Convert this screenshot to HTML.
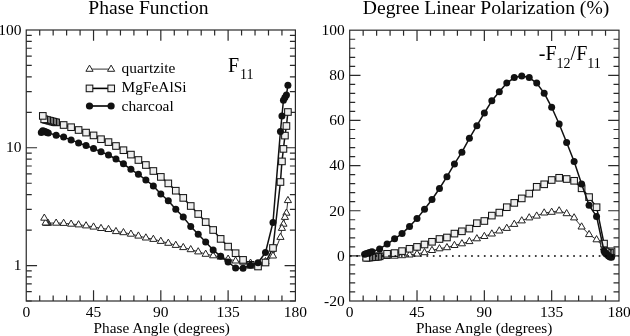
<!DOCTYPE html>
<html><head><meta charset="utf-8"><style>html,body{margin:0;padding:0;background:#fff;}svg{display:block;filter:grayscale(1);}</style></head>
<body><svg width="630" height="336" viewBox="0 0 630 336"><rect width="630" height="336" fill="#fff"/><text x="88.3" y="13.9" font-size="19.6" font-family="Liberation Serif, serif" fill="#000">Phase Function</text><text x="362.8" y="13.9" font-size="19.6" font-family="Liberation Serif, serif" fill="#000">Degree Linear Polarization (%)</text><rect x="26.25" y="30.0" width="269.15" height="271.00" fill="none" stroke="#2a2a2a" stroke-width="1.2"/><path d="M93.54,301.0V290.20M93.54,30.0V40.80M160.82,301.0V290.20M160.82,30.0V40.80M228.11,301.0V290.20M228.11,30.0V40.80M39.71,301.0V295.50M39.71,30.0V35.50M53.16,301.0V295.50M53.16,30.0V35.50M66.62,301.0V295.50M66.62,30.0V35.50M80.08,301.0V295.50M80.08,30.0V35.50M106.99,301.0V295.50M106.99,30.0V35.50M120.45,301.0V295.50M120.45,30.0V35.50M133.91,301.0V295.50M133.91,30.0V35.50M147.37,301.0V295.50M147.37,30.0V35.50M174.28,301.0V295.50M174.28,30.0V35.50M187.74,301.0V295.50M187.74,30.0V35.50M201.20,301.0V295.50M201.20,30.0V35.50M214.65,301.0V295.50M214.65,30.0V35.50M241.57,301.0V295.50M241.57,30.0V35.50M255.03,301.0V295.50M255.03,30.0V35.50M268.49,301.0V295.50M268.49,30.0V35.50M281.94,301.0V295.50M281.94,30.0V35.50M26.25,265.55H37.05M295.4,265.55H284.60M26.25,147.77H37.05M295.4,147.77H284.60M26.25,301.00H31.75M295.4,301.00H289.90M26.25,291.67H31.75M295.4,291.67H289.90M26.25,283.79H31.75M295.4,283.79H289.90M26.25,276.96H31.75M295.4,276.96H289.90M26.25,270.94H31.75M295.4,270.94H289.90M26.25,230.09H31.75M295.4,230.09H289.90M26.25,209.35H31.75M295.4,209.35H289.90M26.25,194.64H31.75M295.4,194.64H289.90M26.25,183.23H31.75M295.4,183.23H289.90M26.25,173.90H31.75M295.4,173.90H289.90M26.25,166.02H31.75M295.4,166.02H289.90M26.25,159.19H31.75M295.4,159.19H289.90M26.25,153.16H31.75M295.4,153.16H289.90M26.25,112.32H31.75M295.4,112.32H289.90M26.25,91.58H31.75M295.4,91.58H289.90M26.25,76.87H31.75M295.4,76.87H289.90M26.25,65.45H31.75M295.4,65.45H289.90M26.25,56.13H31.75M295.4,56.13H289.90M26.25,48.24H31.75M295.4,48.24H289.90M26.25,41.41H31.75M295.4,41.41H289.90M26.25,35.39H31.75M295.4,35.39H289.90" stroke="#2a2a2a" stroke-width="1.2" fill="none"/><rect x="349.7" y="30.2" width="269.30" height="270.80" fill="none" stroke="#2a2a2a" stroke-width="1.2"/><path d="M417.02,301.0V290.20M417.02,30.2V41.00M484.35,301.0V290.20M484.35,30.2V41.00M551.67,301.0V290.20M551.67,30.2V41.00M363.16,301.0V295.50M363.16,30.2V35.70M376.63,301.0V295.50M376.63,30.2V35.70M390.09,301.0V295.50M390.09,30.2V35.70M403.56,301.0V295.50M403.56,30.2V35.70M430.49,301.0V295.50M430.49,30.2V35.70M443.95,301.0V295.50M443.95,30.2V35.70M457.42,301.0V295.50M457.42,30.2V35.70M470.88,301.0V295.50M470.88,30.2V35.70M497.81,301.0V295.50M497.81,30.2V35.70M511.28,301.0V295.50M511.28,30.2V35.70M524.75,301.0V295.50M524.75,30.2V35.70M538.21,301.0V295.50M538.21,30.2V35.70M565.14,301.0V295.50M565.14,30.2V35.70M578.61,301.0V295.50M578.61,30.2V35.70M592.07,301.0V295.50M592.07,30.2V35.70M605.53,301.0V295.50M605.53,30.2V35.70M349.7,255.87H360.50M619.0,255.87H608.20M349.7,210.73H360.50M619.0,210.73H608.20M349.7,165.60H360.50M619.0,165.60H608.20M349.7,120.47H360.50M619.0,120.47H608.20M349.7,75.33H360.50M619.0,75.33H608.20M349.7,291.97H355.20M619.0,291.97H613.50M349.7,282.95H355.20M619.0,282.95H613.50M349.7,273.92H355.20M619.0,273.92H613.50M349.7,264.89H355.20M619.0,264.89H613.50M349.7,246.84H355.20M619.0,246.84H613.50M349.7,237.81H355.20M619.0,237.81H613.50M349.7,228.79H355.20M619.0,228.79H613.50M349.7,219.76H355.20M619.0,219.76H613.50M349.7,201.71H355.20M619.0,201.71H613.50M349.7,192.68H355.20M619.0,192.68H613.50M349.7,183.65H355.20M619.0,183.65H613.50M349.7,174.63H355.20M619.0,174.63H613.50M349.7,156.57H355.20M619.0,156.57H613.50M349.7,147.55H355.20M619.0,147.55H613.50M349.7,138.52H355.20M619.0,138.52H613.50M349.7,129.49H355.20M619.0,129.49H613.50M349.7,111.44H355.20M619.0,111.44H613.50M349.7,102.41H355.20M619.0,102.41H613.50M349.7,93.39H355.20M619.0,93.39H613.50M349.7,84.36H355.20M619.0,84.36H613.50M349.7,66.31H355.20M619.0,66.31H613.50M349.7,57.28H355.20M619.0,57.28H613.50M349.7,48.25H355.20M619.0,48.25H613.50M349.7,39.23H355.20M619.0,39.23H613.50" stroke="#2a2a2a" stroke-width="1.2" fill="none"/><g font-size="15.5" font-family="Liberation Serif, serif" fill="#000"><text x="26.25" y="316.9" text-anchor="middle">0</text><text x="93.54" y="316.9" text-anchor="middle">45</text><text x="160.82" y="316.9" text-anchor="middle">90</text><text x="228.11" y="316.9" text-anchor="middle">135</text><text x="295.40" y="316.9" text-anchor="middle">180</text><text x="349.70" y="316.9" text-anchor="middle">0</text><text x="417.02" y="316.9" text-anchor="middle">45</text><text x="484.35" y="316.9" text-anchor="middle">90</text><text x="551.67" y="316.9" text-anchor="middle">135</text><text x="619.00" y="316.9" text-anchor="middle">180</text><text x="21.6" y="270.15" text-anchor="end">1</text><text x="21.6" y="152.37" text-anchor="end">10</text><text x="21.6" y="34.60" text-anchor="end">100</text><text x="344.7" y="305.80" text-anchor="end">-20</text><text x="344.7" y="260.67" text-anchor="end">0</text><text x="344.7" y="215.53" text-anchor="end">20</text><text x="344.7" y="170.40" text-anchor="end">40</text><text x="344.7" y="125.27" text-anchor="end">60</text><text x="344.7" y="80.13" text-anchor="end">80</text><text x="344.7" y="35.00" text-anchor="end">100</text></g><text x="93.6" y="332.8" font-size="15.25" font-family="Liberation Serif, serif" fill="#000">Phase Angle (degrees)</text><text x="416.0" y="332.8" font-size="15.25" font-family="Liberation Serif, serif" fill="#000">Phase Angle (degrees)</text><text x="228" y="71.6" font-size="20" font-family="Liberation Serif, serif" fill="#000">F<tspan font-size="14" dx="0.8" dy="7.6">11</tspan></text><text x="538.8" y="59.9" font-size="20" font-family="Liberation Serif, serif" fill="#000">-F<tspan font-size="14" dy="7.6">12</tspan><tspan dy="-7.6">/F</tspan><tspan font-size="14" dy="7.6">11</tspan></text><line x1="89.5" y1="69.1" x2="111.1" y2="69.1" stroke="#333" stroke-width="1"/><g fill="#fff" stroke="#222" stroke-width="1"><polygon points="111.10,65.10 107.50,71.30 114.70,71.30"/><polygon points="89.50,65.10 85.90,71.30 93.10,71.30"/></g><line x1="89.5" y1="88.4" x2="111.1" y2="88.4" stroke="#000" stroke-width="1.6"/><g fill="#eeeeee" stroke="#151515" stroke-width="1.05"><rect x="107.90" y="85.10" width="6.6" height="6.6"/><rect x="86.20" y="85.10" width="6.6" height="6.6"/></g><line x1="89.5" y1="106" x2="111.1" y2="106" stroke="#000" stroke-width="1.6"/><g fill="#111"><circle cx="111.10" cy="106.00" r="3.6"/><circle cx="89.50" cy="106.00" r="3.6"/></g><g font-size="15.4" font-family="Liberation Serif, serif" fill="#000"><text x="121.6" y="72.8">quartzite</text><text x="121.6" y="91.9">MgFeAlSi</text><text x="121.6" y="110.9">charcoal</text></g><polyline points="44.30,218.00 45.60,222.80 46.40,223.00 47.20,223.00 48.00,223.10 56.16,223.00 63.63,223.20 71.11,224.00 78.58,224.70 86.06,225.70 93.54,226.90 101.01,228.30 108.49,229.30 115.97,231.40 123.44,232.50 130.92,234.00 138.40,235.90 145.87,237.80 153.35,239.20 160.82,241.20 168.30,243.10 175.78,245.20 183.25,247.40 190.73,249.50 198.21,251.70 205.68,254.10 213.16,255.60 220.64,256.90 228.11,259.00 235.59,260.80 243.07,262.00 250.54,263.00 258.02,264.00 265.49,261.50 272.97,255.80 280.45,237.20 281.94,228.20 283.44,224.00 284.93,217.20 286.43,213.00 287.92,200.40" fill="none" stroke="#333" stroke-width="1.0" stroke-linejoin="round"/><g fill="#fff" stroke="#222" stroke-width="1"><polygon points="287.92,196.40 284.32,202.60 291.52,202.60"/><polygon points="286.43,209.00 282.83,215.20 290.03,215.20"/><polygon points="284.93,213.20 281.33,219.40 288.53,219.40"/><polygon points="283.44,220.00 279.84,226.20 287.04,226.20"/><polygon points="281.94,224.20 278.34,230.40 285.54,230.40"/><polygon points="280.45,233.20 276.85,239.40 284.05,239.40"/><polygon points="272.97,251.80 269.37,258.00 276.57,258.00"/><polygon points="265.49,257.50 261.89,263.70 269.09,263.70"/><polygon points="258.02,260.00 254.42,266.20 261.62,266.20"/><polygon points="250.54,259.00 246.94,265.20 254.14,265.20"/><polygon points="243.07,258.00 239.47,264.20 246.67,264.20"/><polygon points="235.59,256.80 231.99,263.00 239.19,263.00"/><polygon points="228.11,255.00 224.51,261.20 231.71,261.20"/><polygon points="220.64,252.90 217.04,259.10 224.24,259.10"/><polygon points="213.16,251.60 209.56,257.80 216.76,257.80"/><polygon points="205.68,250.10 202.08,256.30 209.28,256.30"/><polygon points="198.21,247.70 194.61,253.90 201.81,253.90"/><polygon points="190.73,245.50 187.13,251.70 194.33,251.70"/><polygon points="183.25,243.40 179.65,249.60 186.85,249.60"/><polygon points="175.78,241.20 172.18,247.40 179.38,247.40"/><polygon points="168.30,239.10 164.70,245.30 171.90,245.30"/><polygon points="160.82,237.20 157.22,243.40 164.42,243.40"/><polygon points="153.35,235.20 149.75,241.40 156.95,241.40"/><polygon points="145.87,233.80 142.27,240.00 149.47,240.00"/><polygon points="138.40,231.90 134.80,238.10 142.00,238.10"/><polygon points="130.92,230.00 127.32,236.20 134.52,236.20"/><polygon points="123.44,228.50 119.84,234.70 127.04,234.70"/><polygon points="115.97,227.40 112.37,233.60 119.57,233.60"/><polygon points="108.49,225.30 104.89,231.50 112.09,231.50"/><polygon points="101.01,224.30 97.41,230.50 104.61,230.50"/><polygon points="93.54,222.90 89.94,229.10 97.14,229.10"/><polygon points="86.06,221.70 82.46,227.90 89.66,227.90"/><polygon points="78.58,220.70 74.98,226.90 82.18,226.90"/><polygon points="71.11,220.00 67.51,226.20 74.71,226.20"/><polygon points="63.63,219.20 60.03,225.40 67.23,225.40"/><polygon points="56.16,219.00 52.56,225.20 59.76,225.20"/><polygon points="48.00,219.10 44.40,225.30 51.60,225.30"/><polygon points="47.20,219.00 43.60,225.20 50.80,225.20"/><polygon points="46.40,219.00 42.80,225.20 50.00,225.20"/><polygon points="45.60,218.80 42.00,225.00 49.20,225.00"/><polygon points="44.30,214.00 40.70,220.20 47.90,220.20"/></g><polyline points="42.80,115.90 44.19,119.30 45.69,119.70 47.18,120.10 48.68,120.50 50.17,120.90 51.67,121.30 53.16,121.70 54.66,122.10 56.16,122.40 63.63,125.00 71.11,127.20 78.58,130.00 86.06,132.60 93.54,135.40 101.01,139.20 108.49,142.10 115.97,146.00 123.44,150.20 130.92,154.60 138.40,160.00 145.87,165.00 153.35,171.00 160.82,176.90 168.30,183.40 175.78,190.70 183.25,197.90 190.73,206.00 198.21,214.00 205.68,222.10 213.16,230.00 220.64,238.90 228.11,246.60 235.59,253.20 243.07,259.90 250.54,264.80 258.02,266.50 265.49,262.50 272.97,248.00 280.45,182.00 281.94,161.40 283.44,148.90 284.93,135.60 286.43,126.00 287.92,112.00" fill="none" stroke="#111" stroke-width="1.5" stroke-linejoin="round"/><g fill="#eeeeee" stroke="#151515" stroke-width="1.05"><rect x="284.62" y="108.70" width="6.6" height="6.6"/><rect x="283.13" y="122.70" width="6.6" height="6.6"/><rect x="281.63" y="132.30" width="6.6" height="6.6"/><rect x="280.14" y="145.60" width="6.6" height="6.6"/><rect x="278.64" y="158.10" width="6.6" height="6.6"/><rect x="277.15" y="178.70" width="6.6" height="6.6"/><rect x="269.67" y="244.70" width="6.6" height="6.6"/><rect x="262.19" y="259.20" width="6.6" height="6.6"/><rect x="254.72" y="263.20" width="6.6" height="6.6"/><rect x="247.24" y="261.50" width="6.6" height="6.6"/><rect x="239.77" y="256.60" width="6.6" height="6.6"/><rect x="232.29" y="249.90" width="6.6" height="6.6"/><rect x="224.81" y="243.30" width="6.6" height="6.6"/><rect x="217.34" y="235.60" width="6.6" height="6.6"/><rect x="209.86" y="226.70" width="6.6" height="6.6"/><rect x="202.38" y="218.80" width="6.6" height="6.6"/><rect x="194.91" y="210.70" width="6.6" height="6.6"/><rect x="187.43" y="202.70" width="6.6" height="6.6"/><rect x="179.95" y="194.60" width="6.6" height="6.6"/><rect x="172.48" y="187.40" width="6.6" height="6.6"/><rect x="165.00" y="180.10" width="6.6" height="6.6"/><rect x="157.52" y="173.60" width="6.6" height="6.6"/><rect x="150.05" y="167.70" width="6.6" height="6.6"/><rect x="142.57" y="161.70" width="6.6" height="6.6"/><rect x="135.10" y="156.70" width="6.6" height="6.6"/><rect x="127.62" y="151.30" width="6.6" height="6.6"/><rect x="120.14" y="146.90" width="6.6" height="6.6"/><rect x="112.67" y="142.70" width="6.6" height="6.6"/><rect x="105.19" y="138.80" width="6.6" height="6.6"/><rect x="97.71" y="135.90" width="6.6" height="6.6"/><rect x="90.24" y="132.10" width="6.6" height="6.6"/><rect x="82.76" y="129.30" width="6.6" height="6.6"/><rect x="75.28" y="126.70" width="6.6" height="6.6"/><rect x="67.81" y="123.90" width="6.6" height="6.6"/><rect x="60.33" y="121.70" width="6.6" height="6.6"/><rect x="52.86" y="119.10" width="6.6" height="6.6"/><rect x="51.36" y="118.80" width="6.6" height="6.6"/><rect x="49.87" y="118.40" width="6.6" height="6.6"/><rect x="48.37" y="118.00" width="6.6" height="6.6"/><rect x="46.87" y="117.60" width="6.6" height="6.6"/><rect x="45.38" y="117.20" width="6.6" height="6.6"/><rect x="43.88" y="116.80" width="6.6" height="6.6"/><rect x="42.39" y="116.40" width="6.6" height="6.6"/><rect x="40.89" y="116.00" width="6.6" height="6.6"/><rect x="39.50" y="112.60" width="6.6" height="6.6"/></g><polyline points="41.30,132.50 42.70,130.70 44.10,131.20 45.50,131.80 46.90,132.40 48.30,132.90 56.16,135.30 63.63,137.10 71.11,139.90 78.58,142.90 86.06,145.50 93.54,148.60 101.01,151.70 108.49,155.00 115.97,159.00 123.44,163.80 130.92,169.30 138.40,174.30 145.87,180.00 153.35,185.90 160.82,194.00 168.30,200.70 175.78,209.30 183.25,217.00 190.73,226.40 198.21,234.30 205.68,242.00 213.16,249.90 220.64,256.30 228.11,262.00 235.59,268.00 243.07,268.30 250.54,265.20 258.02,262.70 265.49,252.50 272.97,222.50 280.45,131.40 281.94,116.00 283.44,100.30 284.93,97.60 286.43,95.00 287.92,85.20" fill="none" stroke="#111" stroke-width="1.5" stroke-linejoin="round"/><g fill="#111"><circle cx="287.92" cy="85.20" r="3.5"/><circle cx="286.43" cy="95.00" r="3.5"/><circle cx="284.93" cy="97.60" r="3.5"/><circle cx="283.44" cy="100.30" r="3.5"/><circle cx="281.94" cy="116.00" r="3.5"/><circle cx="280.45" cy="131.40" r="3.5"/><circle cx="272.97" cy="222.50" r="3.5"/><circle cx="265.49" cy="252.50" r="3.5"/><circle cx="258.02" cy="262.70" r="3.5"/><circle cx="250.54" cy="265.20" r="3.5"/><circle cx="243.07" cy="268.30" r="3.5"/><circle cx="235.59" cy="268.00" r="3.5"/><circle cx="228.11" cy="262.00" r="3.5"/><circle cx="220.64" cy="256.30" r="3.5"/><circle cx="213.16" cy="249.90" r="3.5"/><circle cx="205.68" cy="242.00" r="3.5"/><circle cx="198.21" cy="234.30" r="3.5"/><circle cx="190.73" cy="226.40" r="3.5"/><circle cx="183.25" cy="217.00" r="3.5"/><circle cx="175.78" cy="209.30" r="3.5"/><circle cx="168.30" cy="200.70" r="3.5"/><circle cx="160.82" cy="194.00" r="3.5"/><circle cx="153.35" cy="185.90" r="3.5"/><circle cx="145.87" cy="180.00" r="3.5"/><circle cx="138.40" cy="174.30" r="3.5"/><circle cx="130.92" cy="169.30" r="3.5"/><circle cx="123.44" cy="163.80" r="3.5"/><circle cx="115.97" cy="159.00" r="3.5"/><circle cx="108.49" cy="155.00" r="3.5"/><circle cx="101.01" cy="151.70" r="3.5"/><circle cx="93.54" cy="148.60" r="3.5"/><circle cx="86.06" cy="145.50" r="3.5"/><circle cx="78.58" cy="142.90" r="3.5"/><circle cx="71.11" cy="139.90" r="3.5"/><circle cx="63.63" cy="137.10" r="3.5"/><circle cx="56.16" cy="135.30" r="3.5"/><circle cx="48.30" cy="132.90" r="3.5"/><circle cx="46.90" cy="132.40" r="3.5"/><circle cx="45.50" cy="131.80" r="3.5"/><circle cx="44.10" cy="131.20" r="3.5"/><circle cx="42.70" cy="130.70" r="3.5"/><circle cx="41.30" cy="132.50" r="3.5"/></g><polyline points="366.16,257.60 367.65,257.50 369.15,257.40 370.65,257.30 372.14,257.20 373.64,257.10 375.13,257.00 376.63,256.90 378.13,256.80 379.62,256.80 387.10,256.30 394.58,256.00 402.06,255.50 409.54,254.80 417.02,253.90 424.51,252.50 431.99,250.30 439.47,248.60 446.95,247.50 454.43,245.30 461.91,243.60 469.39,241.40 476.87,238.60 484.35,236.30 491.83,233.80 499.31,230.80 506.79,228.20 514.27,224.20 521.75,220.70 529.23,217.70 536.71,215.90 544.19,212.80 551.67,212.10 559.16,210.70 566.64,213.50 574.12,217.70 581.60,226.80 589.08,234.40 596.56,239.60 604.04,247.50 605.53,249.50 607.03,251.00 608.53,252.50 610.02,253.50 611.52,254.50" fill="none" stroke="#333" stroke-width="1.0" stroke-linejoin="round"/><g fill="#fff" stroke="#222" stroke-width="1"><polygon points="611.52,250.50 607.92,256.70 615.12,256.70"/><polygon points="610.02,249.50 606.42,255.70 613.62,255.70"/><polygon points="608.53,248.50 604.93,254.70 612.13,254.70"/><polygon points="607.03,247.00 603.43,253.20 610.63,253.20"/><polygon points="605.53,245.50 601.93,251.70 609.13,251.70"/><polygon points="604.04,243.50 600.44,249.70 607.64,249.70"/><polygon points="596.56,235.60 592.96,241.80 600.16,241.80"/><polygon points="589.08,230.40 585.48,236.60 592.68,236.60"/><polygon points="581.60,222.80 578.00,229.00 585.20,229.00"/><polygon points="574.12,213.70 570.52,219.90 577.72,219.90"/><polygon points="566.64,209.50 563.04,215.70 570.24,215.70"/><polygon points="559.16,206.70 555.56,212.90 562.76,212.90"/><polygon points="551.67,208.10 548.07,214.30 555.27,214.30"/><polygon points="544.19,208.80 540.59,215.00 547.79,215.00"/><polygon points="536.71,211.90 533.11,218.10 540.31,218.10"/><polygon points="529.23,213.70 525.63,219.90 532.83,219.90"/><polygon points="521.75,216.70 518.15,222.90 525.35,222.90"/><polygon points="514.27,220.20 510.67,226.40 517.87,226.40"/><polygon points="506.79,224.20 503.19,230.40 510.39,230.40"/><polygon points="499.31,226.80 495.71,233.00 502.91,233.00"/><polygon points="491.83,229.80 488.23,236.00 495.43,236.00"/><polygon points="484.35,232.30 480.75,238.50 487.95,238.50"/><polygon points="476.87,234.60 473.27,240.80 480.47,240.80"/><polygon points="469.39,237.40 465.79,243.60 472.99,243.60"/><polygon points="461.91,239.60 458.31,245.80 465.51,245.80"/><polygon points="454.43,241.30 450.83,247.50 458.03,247.50"/><polygon points="446.95,243.50 443.35,249.70 450.55,249.70"/><polygon points="439.47,244.60 435.87,250.80 443.07,250.80"/><polygon points="431.99,246.30 428.39,252.50 435.59,252.50"/><polygon points="424.51,248.50 420.91,254.70 428.11,254.70"/><polygon points="417.02,249.90 413.42,256.10 420.62,256.10"/><polygon points="409.54,250.80 405.94,257.00 413.14,257.00"/><polygon points="402.06,251.50 398.46,257.70 405.66,257.70"/><polygon points="394.58,252.00 390.98,258.20 398.18,258.20"/><polygon points="387.10,252.30 383.50,258.50 390.70,258.50"/><polygon points="379.62,252.80 376.02,259.00 383.22,259.00"/><polygon points="378.13,252.80 374.53,259.00 381.73,259.00"/><polygon points="376.63,252.90 373.03,259.10 380.23,259.10"/><polygon points="375.13,253.00 371.53,259.20 378.73,259.20"/><polygon points="373.64,253.10 370.04,259.30 377.24,259.30"/><polygon points="372.14,253.20 368.54,259.40 375.74,259.40"/><polygon points="370.65,253.30 367.05,259.50 374.25,259.50"/><polygon points="369.15,253.40 365.55,259.60 372.75,259.60"/><polygon points="367.65,253.50 364.05,259.70 371.25,259.70"/><polygon points="366.16,253.60 362.56,259.80 369.76,259.80"/></g><polyline points="366.16,257.80 367.65,257.65 369.15,257.50 370.65,257.35 372.14,257.20 373.64,257.05 375.13,256.90 376.63,256.75 378.13,256.60 379.62,256.30 387.10,253.80 394.58,253.10 402.06,251.10 409.54,248.80 417.02,246.90 424.51,244.50 431.99,241.80 439.47,239.00 446.95,237.50 454.43,233.60 461.91,231.30 469.39,228.60 476.87,223.20 484.35,221.00 491.83,215.60 499.31,212.60 506.79,207.20 514.27,202.90 521.75,198.40 529.23,193.60 536.71,186.80 544.19,184.30 551.67,180.00 559.16,177.80 566.64,179.00 574.12,180.80 581.60,188.30 589.08,197.10 596.56,207.20 604.04,243.60 605.53,251.50 607.03,252.80 608.53,253.20 610.02,252.60 611.52,251.30" fill="none" stroke="#111" stroke-width="1.5" stroke-linejoin="round"/><g fill="#eeeeee" stroke="#151515" stroke-width="1.05"><rect x="608.22" y="248.00" width="6.6" height="6.6"/><rect x="606.72" y="249.30" width="6.6" height="6.6"/><rect x="605.23" y="249.90" width="6.6" height="6.6"/><rect x="603.73" y="249.50" width="6.6" height="6.6"/><rect x="602.24" y="248.20" width="6.6" height="6.6"/><rect x="600.74" y="240.30" width="6.6" height="6.6"/><rect x="593.26" y="203.90" width="6.6" height="6.6"/><rect x="585.78" y="193.80" width="6.6" height="6.6"/><rect x="578.30" y="185.00" width="6.6" height="6.6"/><rect x="570.82" y="177.50" width="6.6" height="6.6"/><rect x="563.34" y="175.70" width="6.6" height="6.6"/><rect x="555.86" y="174.50" width="6.6" height="6.6"/><rect x="548.38" y="176.70" width="6.6" height="6.6"/><rect x="540.89" y="181.00" width="6.6" height="6.6"/><rect x="533.41" y="183.50" width="6.6" height="6.6"/><rect x="525.93" y="190.30" width="6.6" height="6.6"/><rect x="518.45" y="195.10" width="6.6" height="6.6"/><rect x="510.97" y="199.60" width="6.6" height="6.6"/><rect x="503.49" y="203.90" width="6.6" height="6.6"/><rect x="496.01" y="209.30" width="6.6" height="6.6"/><rect x="488.53" y="212.30" width="6.6" height="6.6"/><rect x="481.05" y="217.70" width="6.6" height="6.6"/><rect x="473.57" y="219.90" width="6.6" height="6.6"/><rect x="466.09" y="225.30" width="6.6" height="6.6"/><rect x="458.61" y="228.00" width="6.6" height="6.6"/><rect x="451.13" y="230.30" width="6.6" height="6.6"/><rect x="443.65" y="234.20" width="6.6" height="6.6"/><rect x="436.17" y="235.70" width="6.6" height="6.6"/><rect x="428.69" y="238.50" width="6.6" height="6.6"/><rect x="421.21" y="241.20" width="6.6" height="6.6"/><rect x="413.72" y="243.60" width="6.6" height="6.6"/><rect x="406.24" y="245.50" width="6.6" height="6.6"/><rect x="398.76" y="247.80" width="6.6" height="6.6"/><rect x="391.28" y="249.80" width="6.6" height="6.6"/><rect x="383.80" y="250.50" width="6.6" height="6.6"/><rect x="376.32" y="253.00" width="6.6" height="6.6"/><rect x="374.83" y="253.30" width="6.6" height="6.6"/><rect x="373.33" y="253.45" width="6.6" height="6.6"/><rect x="371.83" y="253.60" width="6.6" height="6.6"/><rect x="370.34" y="253.75" width="6.6" height="6.6"/><rect x="368.84" y="253.90" width="6.6" height="6.6"/><rect x="367.35" y="254.05" width="6.6" height="6.6"/><rect x="365.85" y="254.20" width="6.6" height="6.6"/><rect x="364.35" y="254.35" width="6.6" height="6.6"/><rect x="362.86" y="254.50" width="6.6" height="6.6"/></g><polyline points="364.60,254.30 366.10,253.80 367.60,253.30 369.10,252.70 370.60,252.20 372.10,251.70 379.62,248.90 387.10,244.10 394.58,238.80 402.06,233.60 409.54,226.40 417.02,218.60 424.51,209.30 431.99,199.50 439.47,188.50 446.95,176.70 454.43,163.90 461.91,152.20 469.39,138.30 476.87,125.70 484.35,113.00 491.83,100.80 499.31,91.70 506.79,83.10 514.27,77.60 521.75,76.00 529.23,77.60 536.71,83.10 544.19,93.20 551.67,107.30 559.16,124.00 566.64,142.50 574.12,161.50 581.60,184.00 589.08,205.30 596.56,216.40 604.04,251.00 605.53,253.00 607.03,254.50 608.53,256.00 610.02,257.00 611.52,257.30" fill="none" stroke="#111" stroke-width="1.5" stroke-linejoin="round"/><g fill="#111"><circle cx="611.52" cy="257.30" r="3.5"/><circle cx="610.02" cy="257.00" r="3.5"/><circle cx="608.53" cy="256.00" r="3.5"/><circle cx="607.03" cy="254.50" r="3.5"/><circle cx="605.53" cy="253.00" r="3.5"/><circle cx="604.04" cy="251.00" r="3.5"/><circle cx="596.56" cy="216.40" r="3.5"/><circle cx="589.08" cy="205.30" r="3.5"/><circle cx="581.60" cy="184.00" r="3.5"/><circle cx="574.12" cy="161.50" r="3.5"/><circle cx="566.64" cy="142.50" r="3.5"/><circle cx="559.16" cy="124.00" r="3.5"/><circle cx="551.67" cy="107.30" r="3.5"/><circle cx="544.19" cy="93.20" r="3.5"/><circle cx="536.71" cy="83.10" r="3.5"/><circle cx="529.23" cy="77.60" r="3.5"/><circle cx="521.75" cy="76.00" r="3.5"/><circle cx="514.27" cy="77.60" r="3.5"/><circle cx="506.79" cy="83.10" r="3.5"/><circle cx="499.31" cy="91.70" r="3.5"/><circle cx="491.83" cy="100.80" r="3.5"/><circle cx="484.35" cy="113.00" r="3.5"/><circle cx="476.87" cy="125.70" r="3.5"/><circle cx="469.39" cy="138.30" r="3.5"/><circle cx="461.91" cy="152.20" r="3.5"/><circle cx="454.43" cy="163.90" r="3.5"/><circle cx="446.95" cy="176.70" r="3.5"/><circle cx="439.47" cy="188.50" r="3.5"/><circle cx="431.99" cy="199.50" r="3.5"/><circle cx="424.51" cy="209.30" r="3.5"/><circle cx="417.02" cy="218.60" r="3.5"/><circle cx="409.54" cy="226.40" r="3.5"/><circle cx="402.06" cy="233.60" r="3.5"/><circle cx="394.58" cy="238.80" r="3.5"/><circle cx="387.10" cy="244.10" r="3.5"/><circle cx="379.62" cy="248.90" r="3.5"/><circle cx="372.10" cy="251.70" r="3.5"/><circle cx="370.60" cy="252.20" r="3.5"/><circle cx="369.10" cy="252.70" r="3.5"/><circle cx="367.60" cy="253.30" r="3.5"/><circle cx="366.10" cy="253.80" r="3.5"/><circle cx="364.60" cy="254.30" r="3.5"/></g><line x1="349.9" y1="256.0" x2="618.5" y2="256.0" stroke="#000" stroke-width="1.6" stroke-dasharray="1.7 4.68"/></svg></body></html>
